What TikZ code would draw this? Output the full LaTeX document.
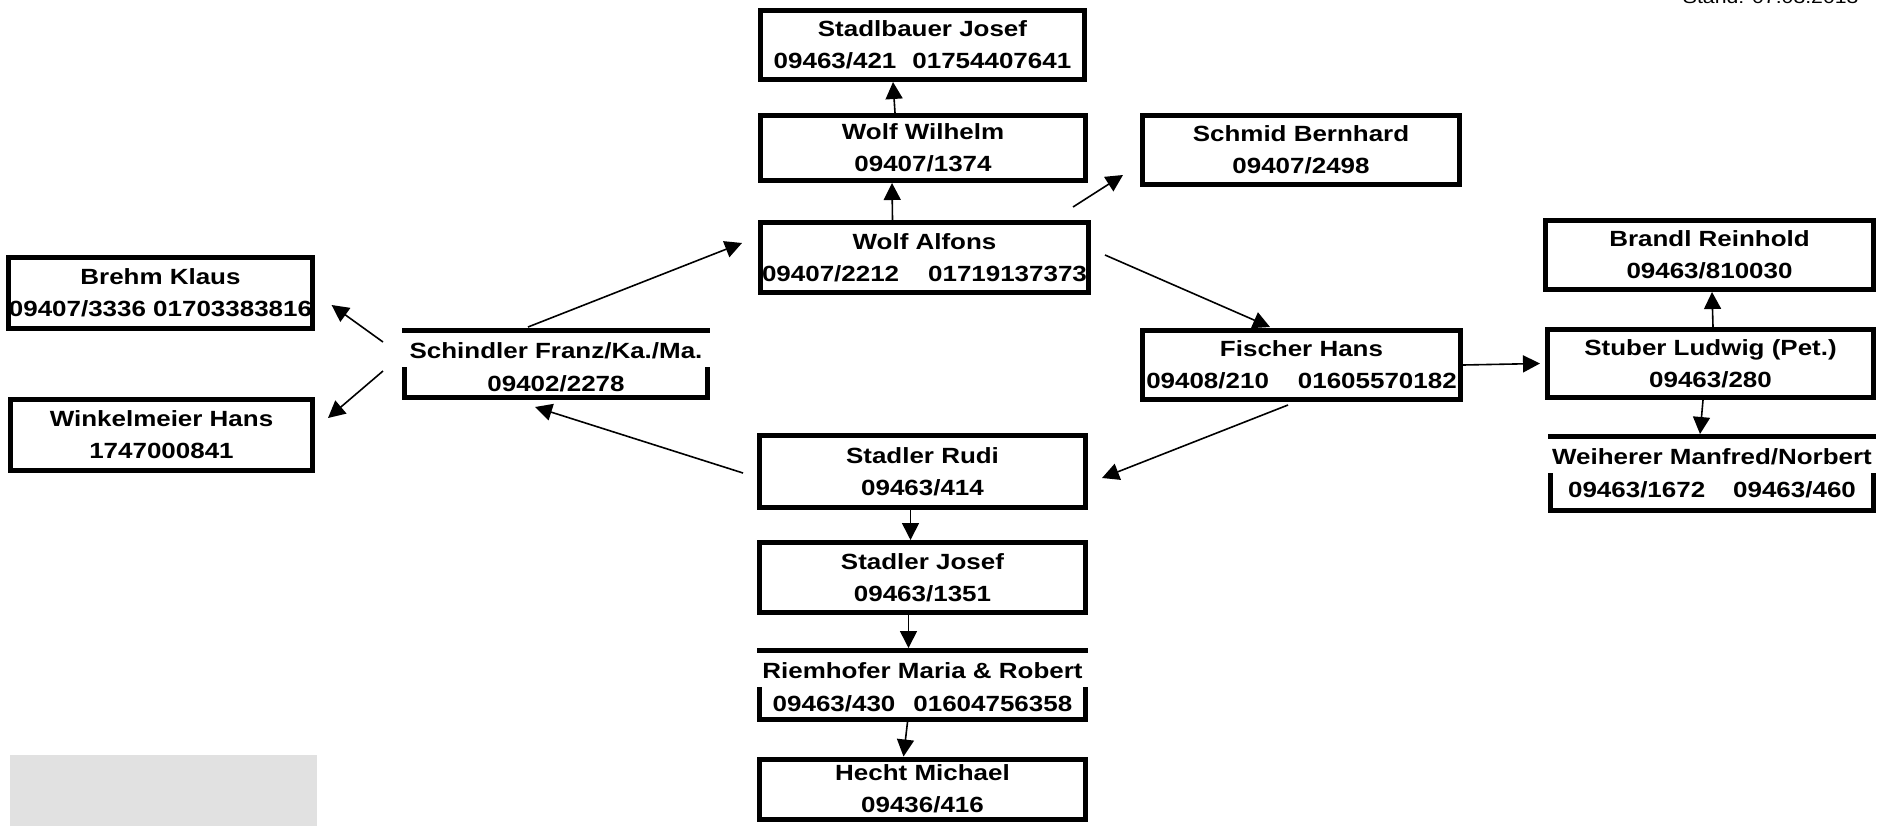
\documentclass[tikz,border=0pt]{standalone}
\usepackage{fontspec}
\setmainfont{Liberation Sans}[FakeStretch=1.18]
\usetikzlibrary{arrows.meta}
\definecolor{panelgray}{HTML}{E1E1E1}
\newcommand\nameline[1]{\makebox[0pt]{\setlength\fboxsep{0pt}\colorbox{white}{\hspace{12pt}\rule[-9pt]{0pt}{34pt}#1\hspace{12pt}}}}
\newcommand\lowline[2]{\rule[-#1pt]{0pt}{0pt}#2}
\begin{document}
\begin{tikzpicture}[x=1pt,y=-1pt,
        every node/.style={font=\bfseries\fontsize{22}{32}\selectfont},
        person/.style={draw,line width=5pt,inner sep=0pt,align=center,minimum width=326pt,minimum height=69pt},
        cutperson/.style={person,font=\bfseries\fontsize{22}{33}\selectfont},
        link/.style={-{Triangle[length=17pt,width=17pt]},line width=1.6pt}]
    \useasboundingbox (0,0) rectangle (1878,825);
    \fill[panelgray] (10,755) rectangle (317,830);
    \node[font=\fontsize{18}{20}\selectfont,anchor=base east] (stand) at (1862,3) {Stand: 07.03.2013};
    \node[person,minimum width=324pt] (stadlbauer) at (922.5,45) {Stadlbauer Josef\\09463/421\hspace{16pt}01754407641};
    \node[person,minimum width=325pt,minimum height=65pt] (wilhelm) at (923,148) {Wolf Wilhelm\\09407/1374};
    \node[person,minimum width=328pt,minimum height=70pt] (alfons) at (924.5,257.5) {Wolf Alfons\\09407/2212\hspace{29pt}01719137373};
    \node[person,minimum width=317pt] (schmid) at (1301,150) {Schmid Bernhard\\09407/2498};
    \node[person,minimum width=300pt,minimum height=71pt] (brehm) at (160.5,293) {Brehm Klaus\\09407/3336 01703383816};
    \node[person,minimum width=302pt,minimum height=71pt] (winkel) at (161.5,435) {Winkelmeier Hans\\1747000841};
    \node[cutperson,minimum width=303pt,minimum height=67pt] (schindler) at (556,364) {\nameline{Schindler Franz/Ka./Ma.}\\\lowline{4}{09402/2278}};
    \node[person,minimum width=318pt] (fischer) at (1301.5,365) {Fischer Hans\\09408/210\hspace{29pt}01605570182};
    \node[person,minimum width=328pt] (brandl) at (1709.5,255) {Brandl Reinhold\\09463/810030};
    \node[person,minimum height=68pt] (stuber) at (1710.5,363.5) {Stuber Ludwig (Pet.)\\09463/280};
    \node[cutperson,minimum width=323pt,minimum height=74pt] (weiherer) at (1712,473.5) {\nameline{Weiherer Manfred/Norbert}\\\lowline{11}{09463/1672\hspace{28pt}09463/460}};
    \node[person,minimum height=72pt] (rudi) at (922.5,471.5) {Stadler Rudi\\09463/414};
    \node[person,minimum height=70pt] (sjosef) at (922.5,577.5) {Stadler Josef\\09463/1351};
    \node[cutperson] (riemhofer) at (922.5,685) {\nameline{Riemhofer Maria \& Robert}\\\lowline{6}{09463/430\hspace{18pt}01604756358}};
    \node[person,minimum height=60pt] (hecht) at (922.5,789) {Hecht Michael\\09436/416};
    \draw[link] ([shift={(-28,0)}]wilhelm.north) -- ([shift={(-29.5,0)}]stadlbauer.south);
    \draw[link] ([shift={(-32,0)}]alfons.north) -- ([shift={(-31,0)}]wilhelm.south);
    \draw[link] ([shift={(-18,-13)}]alfons.north east) -- ([shift={(-17,-12)}]schmid.south west);
    \draw[link] ([shift={(14,-2.5)}]alfons.east) -- ([shift={(-31.5,-1)}]fischer.north);
    \draw[link] ([shift={(-28,-1)}]schindler.north) -- ([shift={(-16,-14.5)}]alfons.west);
    \draw[link] ([shift={(-19,-22)}]schindler.west) -- ([shift={(17,12)}]brehm.east);
    \draw[link] ([shift={(-19,7)}]schindler.west) -- ([shift={(13,-17)}]winkel.east);
    \draw[link] ([shift={(-14,1.5)}]rudi.west) -- ([shift={(-21,7)}]schindler.south);
    \draw[link] ([shift={(-13.5,3)}]fischer.south) -- ([shift={(14,6.5)}]rudi.east);
    \draw[link] (fischer.east) -- ([shift={(-5,0)}]stuber.west);
    \draw[link] ([shift={(2.5,0)}]stuber.north) -- ([shift={(2.5,0)}]brandl.south);
    \draw[link] ([shift={(-7.5,0)}]stuber.south) -- ([shift={(-12,0)}]weiherer.north);
    \draw[link] ([shift={(-12,0)}]rudi.south) -- ([shift={(-12,0)}]sjosef.north);
    \draw[link] ([shift={(-14,0)}]sjosef.south) -- ([shift={(-14,0)}]riemhofer.north);
    \draw[link] ([shift={(-15,0)}]riemhofer.south) -- ([shift={(-19,0)}]hecht.north);
\end{tikzpicture}
\end{document}
